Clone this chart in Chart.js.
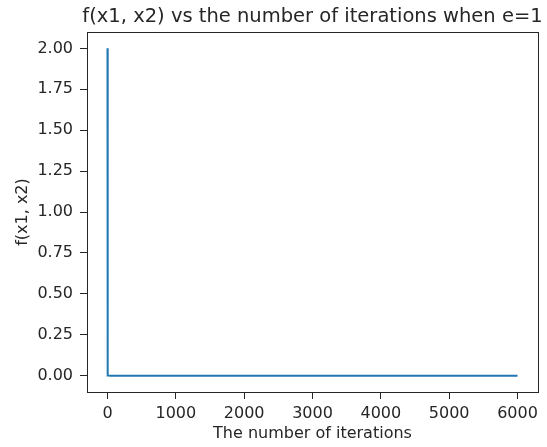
<!DOCTYPE html>
<html>
<head>
<meta charset="utf-8">
<script src="https://cdn.jsdelivr.net/npm/chart.js@4.4.1/dist/chart.umd.min.js"></script>
<style>
  html, body { margin: 0; padding: 0; background: #ffffff; }
  canvas { display: block; }
</style>
</head>
<body>
<canvas id="c" width="547" height="447"></canvas>
<script>
// Objective value f(x1, x2) recorded along the run (e = 1)
const iterations = [0, 1, 2, 3, 5, 10, 50, 100, 500, 1000, 2000, 3000, 4000, 5000, 6000];
const fValues    = [2.0, 0.001, 0.0005, 0.0003, 0.0002, 0.0001, 0.00005, 0.00002, 0, 0, 0, 0, 0, 0, 0];

const xTicks = [0, 1000, 2000, 3000, 4000, 5000, 6000];
const yTicks = [0, 0.25, 0.5, 0.75, 1.0, 1.25, 1.5, 1.75, 2.0];

const titleText = 'f(x1, x2) vs the number of iterations when e=1';
const xLabel = 'The number of iterations';
const yLabel = 'f(x1, x2)';

const FONT = "'DejaVu Sans', sans-serif";
const INK = '#262626';

// Frame around the plot area, plus the title and both axis labels
const framePlugin = {
  id: 'frame',
  afterDraw(chart) {
    const { ctx, chartArea: a } = chart;
    ctx.save();
    ctx.strokeStyle = INK;
    ctx.lineWidth = 1;
    ctx.strokeRect(Math.round(a.left) + 0.5, Math.round(a.top) + 0.5,
                   Math.round(a.right - a.left), Math.round(a.bottom - a.top));
    ctx.fillStyle = INK;
    ctx.textAlign = 'center';

    ctx.font = '19.5px ' + FONT;
    ctx.textBaseline = 'alphabetic';
    ctx.fillText(titleText, (a.left + a.right) / 2, a.top - 10);

    ctx.font = '16px ' + FONT;
    ctx.textBaseline = 'middle';
    ctx.fillText(xLabel, (a.left + a.right) / 2, a.bottom + 42);

    ctx.translate(23, (a.top + a.bottom) / 2);
    ctx.rotate(-Math.PI / 2);
    ctx.fillText(yLabel, 0, 0);
    ctx.restore();
  }
};

new Chart(document.getElementById('c'), {
  type: 'line',
  data: {
    datasets: [{
      data: iterations.map((it, i) => ({ x: it, y: fValues[i] })),
      borderColor: '#1f77b4',
      borderWidth: 2,
      pointRadius: 0,
      fill: false,
      tension: 0
    }]
  },
  options: {
    responsive: false,
    animation: false,
    layout: { padding: { top: 32, right: 9, left: 0, bottom: 0 } },
    plugins: { legend: { display: false }, title: { display: false }, tooltip: { enabled: false } },
    scales: {
      x: {
        type: 'linear',
        min: -300,
        max: 6300,
        afterBuildTicks(s) { s.ticks = xTicks.map(v => ({ value: v })); },
        afterFit(s) { s.height = 55; },
        grid: { display: true, drawOnChartArea: false, drawTicks: true, tickLength: 7, color: INK, tickColor: INK },
        border: { display: true, color: INK },
        ticks: { color: INK, font: { family: FONT, size: 16 }, padding: 5, maxRotation: 0, callback: v => String(v) },
        title: { display: false }
      },
      y: {
        type: 'linear',
        min: -0.1,
        max: 2.1,
        afterBuildTicks(s) { s.ticks = yTicks.map(v => ({ value: v })); },
        afterFit(s) { s.width = 87; },
        grid: { display: true, drawOnChartArea: false, drawTicks: true, tickLength: 7, color: INK, tickColor: INK },
        border: { display: true, color: INK },
        ticks: { color: INK, font: { family: FONT, size: 16 }, padding: 7, callback: v => Number(v).toFixed(2) },
        title: { display: false }
      }
    }
  },
  plugins: [framePlugin]
});
</script>
</body>
</html>
